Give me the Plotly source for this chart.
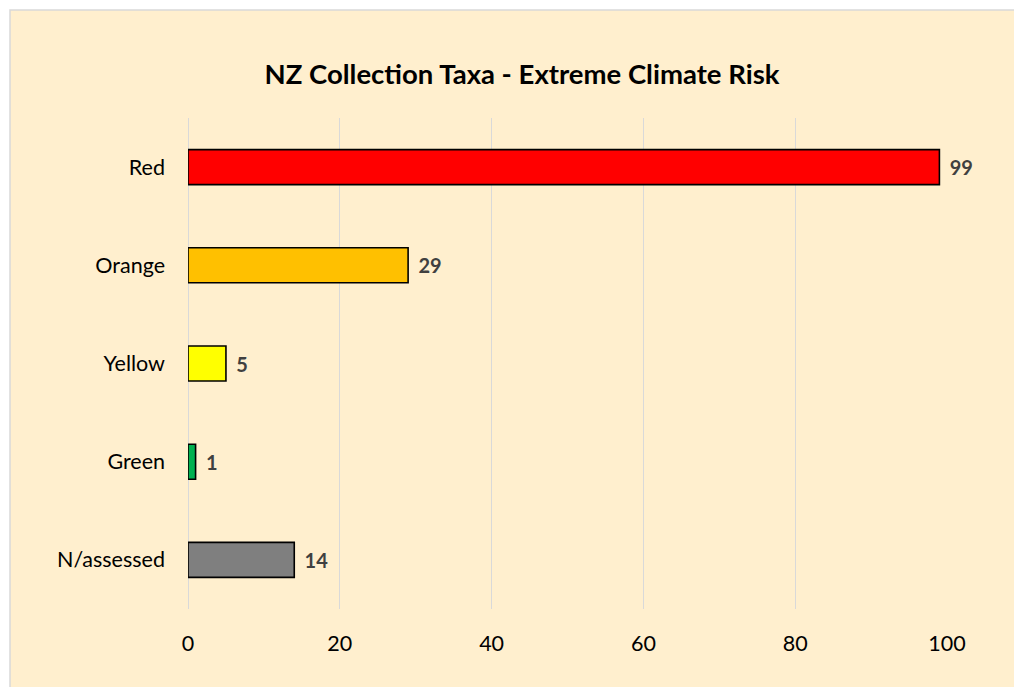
import plotly.graph_objects as go

# Taxa counts by extreme-climate risk category
categories = ["Red", "Orange", "Yellow", "Green", "N/assessed"]
counts = [99, 29, 5, 1, 14]
bar_colors = ["#FF0000", "#FFC000", "#FFFF00", "#00B050", "#7F7F7F"]
x_ticks = [0, 20, 40, 60, 80, 100]

BG = "#FFEFCE"
FONT = "Lato"

# plot area in pixels
W, H = 1014, 687
L, R, T, B = 188, 67, 118, 78
pw, ph = W - L - R, H - T - B

def px_x(p):
    return (p - L) / pw

def px_y(p):
    return (H - B - p) / ph

fig = go.Figure()
fig.add_trace(go.Bar(
    y=categories,
    x=counts,
    orientation="h",
    marker=dict(color=bar_colors, line=dict(color="#000000", width=1.6)),
    texttemplate="\u00a0\u2009%{x}",
    textposition="outside",
    cliponaxis=False,
    textfont=dict(family=FONT, size=20, color="#404040", weight="bold"),
    hoverinfo="skip",
))

# chart frame: white margin at top/left, tan panel with light border
fig.add_shape(
    type="rect", xref="paper", yref="paper", layer="below",
    x0=px_x(10), x1=px_x(1030), y0=px_y(700), y1=px_y(10),
    fillcolor=BG, line=dict(color="#D9D9D9", width=1.5),
)

fig.update_layout(
    width=W, height=H,
    margin=dict(l=L, r=R, t=T, b=B, pad=0),
    paper_bgcolor="#FFFFFF",
    plot_bgcolor="rgba(0,0,0,0)",
    bargap=0.644,
    showlegend=False,
    title=dict(
        text="<b>NZ Collection Taxa - Extreme Climate Risk</b>",
        x=(522 / W), xanchor="center",
        y=1 - 74 / H, yanchor="middle",
        font=dict(family=FONT, size=27.5, color="#000000"),
    ),
    xaxis=dict(
        range=[0, 100],
        tickvals=x_ticks,
        showgrid=True, gridcolor="#D9D9D9", gridwidth=1,
        zeroline=True, zerolinecolor="#D9D9D9", zerolinewidth=1,
        showline=False, ticks="",
        ticklabelstandoff=19,
        tickfont=dict(family=FONT, size=21.5, color="#000000"),
        fixedrange=True,
    ),
    yaxis=dict(
        categoryorder="array", categoryarray=categories,
        autorange="reversed",
        showgrid=False, zeroline=False, showline=False, ticks="",
        ticklabelstandoff=22,
        tickfont=dict(family=FONT, size=21.5, color="#000000"),
        fixedrange=True,
    ),
)

fig.write_html("out.html", config={"displayModeBar": False})
